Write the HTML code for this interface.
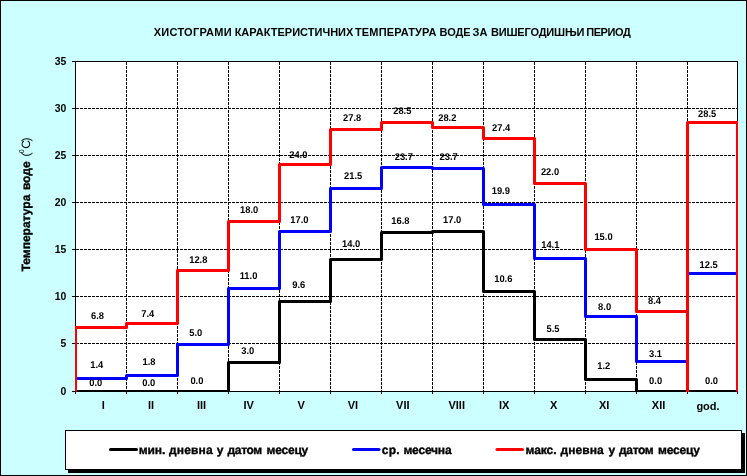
<!DOCTYPE html>
<html><head><meta charset="utf-8"><title>Хистограми</title>
<style>
html,body{margin:0;padding:0;background:#ccffff;}
svg{display:block;will-change:transform;font-family:"Liberation Sans",Arial,sans-serif;font-weight:bold;fill:#000;}
text{stroke:none;}
</style></head><body>
<svg width="747" height="476" viewBox="0 0 747 476">
<rect x="0" y="0" width="747" height="476" fill="#ccffff"/>
<rect x="0.5" y="0.5" width="746" height="475" fill="none" stroke="#000" stroke-width="1" shape-rendering="crispEdges"/>

<rect x="75" y="61" width="663" height="331" fill="#fff"/>
<g shape-rendering="crispEdges" stroke="#000" stroke-width="1" fill="none">
<line x1="76" y1="343.5" x2="737" y2="343.5" stroke-dasharray="3 1"/>
<line x1="76" y1="296.5" x2="737" y2="296.5" stroke-dasharray="3 1"/>
<line x1="76" y1="249.5" x2="737" y2="249.5" stroke-dasharray="3 1"/>
<line x1="76" y1="202.5" x2="737" y2="202.5" stroke-dasharray="3 1"/>
<line x1="76" y1="155.5" x2="737" y2="155.5" stroke-dasharray="3 1"/>
<line x1="76" y1="108.5" x2="737" y2="108.5" stroke-dasharray="3 1"/>
<line x1="126.5" y1="62" x2="126.5" y2="391" stroke-dasharray="3 1"/>
<line x1="177.5" y1="62" x2="177.5" y2="391" stroke-dasharray="3 1"/>
<line x1="228.5" y1="62" x2="228.5" y2="391" stroke-dasharray="3 1"/>
<line x1="279.5" y1="62" x2="279.5" y2="391" stroke-dasharray="3 1"/>
<line x1="330.5" y1="62" x2="330.5" y2="391" stroke-dasharray="3 1"/>
<line x1="381.5" y1="62" x2="381.5" y2="391" stroke-dasharray="3 1"/>
<line x1="432.5" y1="62" x2="432.5" y2="391" stroke-dasharray="3 1"/>
<line x1="483.5" y1="62" x2="483.5" y2="391" stroke-dasharray="3 1"/>
<line x1="534.5" y1="62" x2="534.5" y2="391" stroke-dasharray="3 1"/>
<line x1="585.5" y1="62" x2="585.5" y2="391" stroke-dasharray="3 1"/>
<line x1="636.5" y1="62" x2="636.5" y2="391" stroke-dasharray="3 1"/>
<line x1="687.5" y1="62" x2="687.5" y2="391" stroke-dasharray="3 1"/>
<rect x="75.5" y="61.5" width="662" height="330"/>
<line x1="72" y1="391.5" x2="75" y2="391.5"/>
<line x1="72" y1="343.5" x2="75" y2="343.5"/>
<line x1="72" y1="296.5" x2="75" y2="296.5"/>
<line x1="72" y1="249.5" x2="75" y2="249.5"/>
<line x1="72" y1="202.5" x2="75" y2="202.5"/>
<line x1="72" y1="155.5" x2="75" y2="155.5"/>
<line x1="72" y1="108.5" x2="75" y2="108.5"/>
<line x1="72" y1="61.5" x2="75" y2="61.5"/>
<line x1="75.5" y1="392" x2="75.5" y2="394"/>
<line x1="126.5" y1="392" x2="126.5" y2="394"/>
<line x1="177.5" y1="392" x2="177.5" y2="394"/>
<line x1="228.5" y1="392" x2="228.5" y2="394"/>
<line x1="279.5" y1="392" x2="279.5" y2="394"/>
<line x1="330.5" y1="392" x2="330.5" y2="394"/>
<line x1="381.5" y1="392" x2="381.5" y2="394"/>
<line x1="432.5" y1="392" x2="432.5" y2="394"/>
<line x1="483.5" y1="392" x2="483.5" y2="394"/>
<line x1="534.5" y1="392" x2="534.5" y2="394"/>
<line x1="585.5" y1="392" x2="585.5" y2="394"/>
<line x1="636.5" y1="392" x2="636.5" y2="394"/>
<line x1="687.5" y1="392" x2="687.5" y2="394"/>
<line x1="737.5" y1="392" x2="737.5" y2="394"/>
</g>
<clipPath id="c"><rect x="75" y="61" width="663" height="331"/></clipPath>
<g clip-path="url(#c)" fill="none" stroke-width="3" stroke-linejoin="round">
<path d="M75.5,391.5 L126.5,391.5 L177.5,391.5 L228.5,391.5 L228.5,362.5 L279.5,362.5 L279.5,301.5 L330.5,301.5 L330.5,259.5 L381.5,259.5 L381.5,232.5 L432.5,232.5 L432.5,231.5 L483.5,231.5 L483.5,291.5 L534.5,291.5 L534.5,339.5 L585.5,339.5 L585.5,379.5 L636.5,379.5 L636.5,391.5 L687.5,391.5 L737.5,391.5" stroke="#000"/>
<path d="M75.5,391.5 L75.5,378.5 L126.5,378.5 L126.5,375.5 L177.5,375.5 L177.5,344.5 L228.5,344.5 L228.5,288.5 L279.5,288.5 L279.5,231.5 L330.5,231.5 L330.5,188.5 L381.5,188.5 L381.5,167.5 L432.5,167.5 L432.5,168.5 L483.5,168.5 L483.5,204.5 L534.5,204.5 L534.5,258.5 L585.5,258.5 L585.5,316.5 L636.5,316.5 L636.5,361.5 L687.5,361.5 L687.5,391.5 L687.5,273.5 L737.5,273.5 L737.5,391.5" stroke="#00f"/>
<path d="M75.5,391.5 L75.5,327.5 L126.5,327.5 L126.5,323.5 L177.5,323.5 L177.5,270.5 L228.5,270.5 L228.5,221.5 L279.5,221.5 L279.5,164.5 L330.5,164.5 L330.5,129.5 L381.5,129.5 L381.5,122.5 L432.5,122.5 L432.5,127.5 L483.5,127.5 L483.5,138.5 L534.5,138.5 L534.5,183.5 L585.5,183.5 L585.5,249.5 L636.5,249.5 L636.5,311.5 L687.5,311.5 L687.5,391.5 L687.5,122.5 L737.5,122.5 L737.5,391.5" stroke="#f00"/>
</g>
<g font-size="11px" text-anchor="end">
<text transform="translate(66.3,394.5) scale(0.95,1)">0</text>
<text transform="translate(66.3,346.5) scale(0.95,1)">5</text>
<text transform="translate(66.3,299.5) scale(0.95,1)">10</text>
<text transform="translate(66.3,252.5) scale(0.95,1)">15</text>
<text transform="translate(66.3,205.5) scale(0.95,1)">20</text>
<text transform="translate(66.3,158.5) scale(0.95,1)">25</text>
<text transform="translate(66.3,111.5) scale(0.95,1)">30</text>
<text transform="translate(66.3,64.5) scale(0.95,1)">35</text>
</g>
<g font-size="11px" text-anchor="middle">
<text x="103.4" y="409">I</text>
<text x="151.1" y="409">II</text>
<text x="201.5" y="409">III</text>
<text x="248.6" y="409">IV</text>
<text x="301.2" y="409">V</text>
<text x="352.9" y="409">VI</text>
<text x="402.8" y="409">VII</text>
<text x="456.7" y="409">VIII</text>
<text x="504.2" y="409">IX</text>
<text x="553.6" y="409">X</text>
<text x="604.2" y="409">XI</text>
<text x="658.6" y="409">XII</text>
<text x="708" y="410">god.</text>
</g>
<g font-size="9.8px" text-anchor="middle" text-rendering="geometricPrecision">
<text transform="translate(95.7,386) scale(0.955,1)">0.0</text>
<text transform="translate(148.7,386) scale(0.955,1)">0.0</text>
<text transform="translate(196.9,384) scale(0.955,1)">0.0</text>
<text transform="translate(247.7,354) scale(0.955,1)">3.0</text>
<text transform="translate(298.7,288) scale(0.955,1)">9.6</text>
<text transform="translate(351.2,247) scale(0.955,1)">14.0</text>
<text transform="translate(400.4,224) scale(0.955,1)">16.8</text>
<text transform="translate(452.2,223) scale(0.955,1)">17.0</text>
<text transform="translate(503.3,282) scale(0.955,1)">10.6</text>
<text transform="translate(553,332) scale(0.955,1)">5.5</text>
<text transform="translate(603.8,369) scale(0.955,1)">1.2</text>
<text transform="translate(655.6,384) scale(0.955,1)">0.0</text>
<text transform="translate(711.5,384) scale(0.955,1)">0.0</text>
<text transform="translate(96.8,368) scale(0.955,1)">1.4</text>
<text transform="translate(149,365) scale(0.955,1)">1.8</text>
<text transform="translate(195.7,336) scale(0.955,1)">5.0</text>
<text transform="translate(248.5,279) scale(0.955,1)">11.0</text>
<text transform="translate(299.4,223) scale(0.955,1)">17.0</text>
<text transform="translate(353.2,179) scale(0.955,1)">21.5</text>
<text transform="translate(403.8,160) scale(0.955,1)">23.7</text>
<text transform="translate(448.7,160) scale(0.955,1)">23.7</text>
<text transform="translate(500.8,194) scale(0.955,1)">19.9</text>
<text transform="translate(550.3,248) scale(0.955,1)">14.1</text>
<text transform="translate(604.6,310) scale(0.955,1)">8.0</text>
<text transform="translate(655.5,357) scale(0.955,1)">3.1</text>
<text transform="translate(708.6,268) scale(0.955,1)">12.5</text>
<text transform="translate(97.5,319) scale(0.955,1)">6.8</text>
<text transform="translate(147.8,317) scale(0.955,1)">7.4</text>
<text transform="translate(198.3,263) scale(0.955,1)">12.8</text>
<text transform="translate(249.2,213) scale(0.955,1)">18.0</text>
<text transform="translate(298.3,158) scale(0.955,1)">24.0</text>
<text transform="translate(352.2,121) scale(0.955,1)">27.8</text>
<text transform="translate(402.3,114) scale(0.955,1)">28.5</text>
<text transform="translate(447.3,121) scale(0.955,1)">28.2</text>
<text transform="translate(501.2,131) scale(0.955,1)">27.4</text>
<text transform="translate(550,175) scale(0.955,1)">22.0</text>
<text transform="translate(603.5,240) scale(0.955,1)">15.0</text>
<text transform="translate(654.5,304) scale(0.955,1)">8.4</text>
<text transform="translate(707.2,117) scale(0.955,1)">28.5</text>
</g>
<text y="36" font-size="11px"><tspan x="153.68" textLength="77.98" lengthAdjust="spacing">ХИСТОГРАМИ</tspan> <tspan x="234.64" textLength="118.74" lengthAdjust="spacing">КАРАКТЕРИСТИЧНИХ</tspan> <tspan x="355.0" textLength="81.52" lengthAdjust="spacing">ТЕМПЕРАТУРА</tspan> <tspan x="439.6" textLength="30.88" lengthAdjust="spacing">ВОДЕ</tspan> <tspan x="472.5" textLength="14.94" lengthAdjust="spacing">ЗА</tspan> <tspan x="491.0" textLength="93.32" lengthAdjust="spacing">ВИШЕГОДИШЊИ</tspan> <tspan x="586.2" textLength="44.62" lengthAdjust="spacing">ПЕРИОД</tspan></text>
<g transform="translate(29.6,271) rotate(-90)">
<text y="0" font-size="12px" text-rendering="geometricPrecision" style="stroke:#000;stroke-width:0.35px"><tspan x="-0.5" textLength="76.86" lengthAdjust="spacing">Температура</tspan> <tspan x="80.9" textLength="28.74" lengthAdjust="spacing">воде</tspan></text>
<text y="0" font-size="12px" font-weight="normal" text-rendering="geometricPrecision" stroke-width="0.15"><tspan x="114.5">(</tspan><tspan x="117.8" dy="-6" font-size="7px">0</tspan><tspan x="122.3" dy="6">C</tspan><tspan x="129.6">)</tspan></text>
</g>
<g shape-rendering="crispEdges">
<path d="M68,470 H742 V433 H745 V473 H68 Z" fill="#000"/>
<rect x="65.5" y="430.5" width="676" height="39" fill="#fff" stroke="#000" stroke-width="1"/>
</g>
<g stroke-width="3" stroke-linecap="round">
<line x1="110.5" y1="449.5" x2="136.5" y2="449.5" stroke="#000"/>
<line x1="353.5" y1="449.5" x2="379" y2="449.5" stroke="#00f"/>
<line x1="497" y1="449.5" x2="522.5" y2="449.5" stroke="#f00"/>
</g>
<text y="454" font-size="12px" text-rendering="geometricPrecision" style="stroke:#000;stroke-width:0.35px"><tspan x="138.64" textLength="26.74" lengthAdjust="spacing">мин.</tspan> <tspan x="169.0" textLength="43.58" lengthAdjust="spacing">дневна</tspan> <tspan x="216.7">у</tspan> <tspan x="227.5" textLength="34.72" lengthAdjust="spacing">датом</tspan> <tspan x="266.5" textLength="41.8" lengthAdjust="spacing">месецу</tspan></text>
<text y="454" font-size="12px" text-rendering="geometricPrecision" style="stroke:#000;stroke-width:0.35px"><tspan x="381.86" textLength="17.62" lengthAdjust="spacing">ср.</tspan> <tspan x="403.4" textLength="48.2" lengthAdjust="spacing">месечна</tspan></text>
<text y="454" font-size="12px" text-rendering="geometricPrecision" style="stroke:#000;stroke-width:0.35px"><tspan x="525.5" textLength="30.98" lengthAdjust="spacing">макс.</tspan> <tspan x="560.5" textLength="43.3" lengthAdjust="spacing">дневна</tspan> <tspan x="608.4">у</tspan> <tspan x="619.0" textLength="34.72" lengthAdjust="spacing">датом</tspan> <tspan x="658.0" textLength="42.02" lengthAdjust="spacing">месецу</tspan></text>
</svg></body></html>
